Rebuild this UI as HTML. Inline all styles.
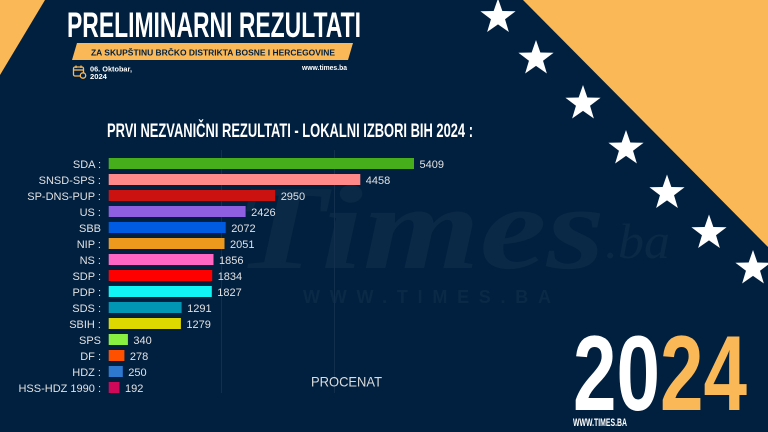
<!DOCTYPE html>
<html><head><meta charset="utf-8">
<style>
html,body{margin:0;padding:0;background:#01203f;}
svg{display:block}
</style></head><body>
<svg width="768" height="432" viewBox="0 0 768 432" xmlns="http://www.w3.org/2000/svg" font-family="Liberation Sans, sans-serif">
<rect width="768" height="432" fill="#01203f"/>
<!-- watermark -->
<g fill="#0a2946">
<text x="235" y="268" style="font-family:'Liberation Serif',serif;font-style:italic;font-weight:bold" font-size="120" textLength="370" lengthAdjust="spacingAndGlyphs">Times</text>
<text x="605" y="258" style="font-family:'Liberation Serif',serif;font-style:italic" font-size="50" textLength="65" lengthAdjust="spacingAndGlyphs">.ba</text>
<text x="303" y="303" font-size="18" font-weight="bold" textLength="248" lengthAdjust="spacing">WWW.TIMES.BA</text>
</g>
<!-- corner shapes -->
<polygon points="0,0 45,0 0,75" fill="#fbb856"/>
<polygon points="523,0 768,0 768,247" fill="#fbb856"/>
<!-- stars -->
<defs>
<polygon id="st" points="0,-18.5 4.35,-5.99 17.59,-5.72 7.04,2.29 10.87,14.97 0,7.4 -10.87,14.97 -7.04,2.29 -17.59,-5.72 -4.35,-5.99" fill="#fff"/>
</defs>
<use href="#st" x="498" y="17"/>
<use href="#st" x="536" y="58.5"/>
<use href="#st" x="583" y="103.5"/>
<use href="#st" x="626" y="148.5"/>
<use href="#st" x="667" y="193"/>
<use href="#st" x="709" y="233"/>
<use href="#st" x="753" y="268.5"/>
<!-- header -->
<text x="67" y="37" font-size="35" font-weight="bold" fill="#fff" textLength="294" lengthAdjust="spacingAndGlyphs">PRELIMINARNI REZULTATI</text>
<polygon points="77,43 353,43 348,60 72,60" fill="#fbb856"/>
<text x="91" y="55.5" font-size="7.8" font-weight="bold" fill="#01203f" textLength="244" lengthAdjust="spacingAndGlyphs">ZA SKUPŠTINU BRČKO DISTRIKTA BOSNE I HERCEGOVINE</text>
<!-- calendar icon -->
<g fill="none" stroke="#fbb856" stroke-width="1.3">
<rect x="73.5" y="67" width="10" height="9" rx="1.5"/>
<line x1="73.5" y1="70" x2="83.5" y2="70"/>
<line x1="76" y1="65.5" x2="76" y2="68"/>
<line x1="81" y1="65.5" x2="81" y2="68"/>
<circle cx="83" cy="75.5" r="2.7" fill="#01203f"/>
</g>
<text x="90" y="71.5" font-size="7.6" font-weight="bold" fill="#fff" textLength="42" lengthAdjust="spacingAndGlyphs">06. Oktobar,</text>
<text x="90" y="79" font-size="7.6" font-weight="bold" fill="#fff">2024</text>
<text x="302" y="70" font-size="7" font-weight="bold" fill="#fff" textLength="45" lengthAdjust="spacingAndGlyphs">www.times.ba</text>
<!-- chart title -->
<text x="107" y="137" font-size="19.5" font-weight="bold" fill="#fff" textLength="366" lengthAdjust="spacingAndGlyphs">PRVI NEZVANIČNI REZULTATI - LOKALNI IZBORI BIH 2024 :</text>
<!-- gridlines -->
<line x1="221.5" y1="150" x2="221.5" y2="393" stroke="#12304e" stroke-width="1"/>
<line x1="334.5" y1="150" x2="334.5" y2="393" stroke="#12304e" stroke-width="1"/>
<!-- bars -->
<g font-size="11" fill="#e2e2e2">
<g text-anchor="end">
<text x="101" y="168">SDA :</text>
<text x="101" y="184">SNSD-SPS :</text>
<text x="101" y="200">SP-DNS-PUP :</text>
<text x="101" y="216">US :</text>
<text x="101" y="232">SBB</text>
<text x="101" y="248">NIP :</text>
<text x="101" y="264">NS :</text>
<text x="101" y="280">SDP :</text>
<text x="101" y="296">PDP :</text>
<text x="101" y="312">SDS :</text>
<text x="101" y="328">SBIH :</text>
<text x="101" y="344">SPS</text>
<text x="101" y="360">DF :</text>
<text x="101" y="376">HDZ :</text>
<text x="101" y="392">HSS-HDZ 1990 :</text>
</g>
<rect x="108.7" y="158" width="305.3" height="11" fill="#45ae1a"/>
<rect x="108.7" y="174" width="251.6" height="11" fill="#ff8888"/>
<rect x="108.7" y="190" width="166.5" height="11" fill="#cc1111"/>
<rect x="108.7" y="206" width="136.9" height="11" fill="#8e5fe0"/>
<rect x="108.7" y="222" width="117.0" height="11" fill="#005be3"/>
<rect x="108.7" y="238" width="115.8" height="11" fill="#ec991e"/>
<rect x="108.7" y="254" width="104.8" height="11" fill="#ff66c4"/>
<rect x="108.7" y="270" width="103.5" height="11" fill="#ff0000"/>
<rect x="108.7" y="286" width="103.1" height="11" fill="#12f5f5"/>
<rect x="108.7" y="302" width="72.9" height="11" fill="#0096b4"/>
<rect x="108.7" y="318" width="72.2" height="11" fill="#dcd800"/>
<rect x="108.7" y="334" width="19.2" height="11" fill="#88f040"/>
<rect x="108.7" y="350" width="15.7" height="11" fill="#ff5000"/>
<rect x="108.7" y="366" width="14.1" height="11" fill="#2f78d0"/>
<rect x="108.7" y="382" width="10.8" height="11" fill="#d0085a"/>
<text x="419.5" y="168">5409</text>
<text x="365.8" y="184">4458</text>
<text x="280.7" y="200">2950</text>
<text x="251.1" y="216">2426</text>
<text x="231.2" y="232">2072</text>
<text x="230" y="248">2051</text>
<text x="219" y="264">1856</text>
<text x="217.7" y="280">1834</text>
<text x="217.3" y="296">1827</text>
<text x="187.1" y="312">1291</text>
<text x="186.4" y="328">1279</text>
<text x="133.4" y="344">340</text>
<text x="129.9" y="360">278</text>
<text x="128.3" y="376">250</text>
<text x="125" y="392">192</text>
</g>
<text x="311" y="386.7" font-size="14" fill="#dcdcdc" textLength="71" lengthAdjust="spacingAndGlyphs">PROCENAT</text>
<!-- 2024 -->
<text x="573" y="410" font-size="107" font-weight="bold" fill="#fff" textLength="87" lengthAdjust="spacingAndGlyphs">20</text>
<text x="660" y="410" font-size="107" font-weight="bold" fill="#fbb856" textLength="87" lengthAdjust="spacingAndGlyphs">24</text>
<text x="573" y="426" font-size="11" font-weight="bold" fill="#fff" textLength="54" lengthAdjust="spacingAndGlyphs">WWW.TIMES.BA</text>
</svg>
</body></html>
